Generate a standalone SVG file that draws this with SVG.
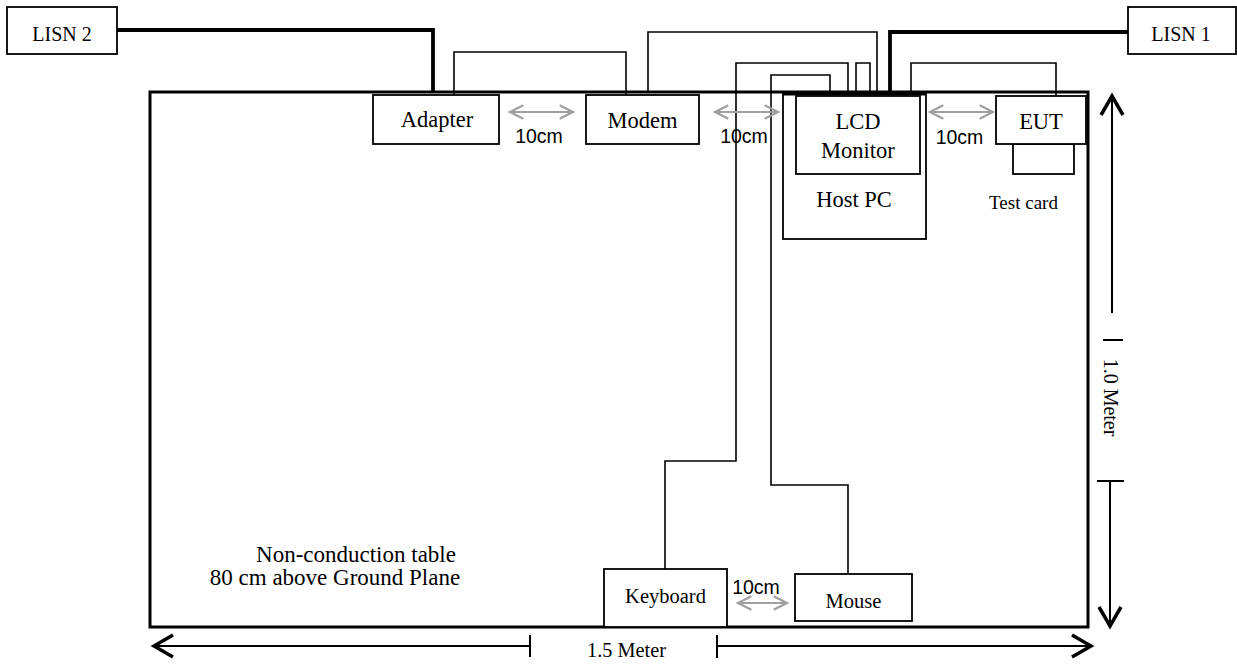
<svg xmlns="http://www.w3.org/2000/svg" width="1237" height="664" viewBox="0 0 1237 664">
<style>
.box{fill:#fff;stroke:#000;stroke-width:1.8}
.t{font-family:"Liberation Serif","Times New Roman",serif;fill:#000;text-anchor:middle}
.s{font-family:"Liberation Sans",Arial,sans-serif;fill:#000;text-anchor:middle;font-size:19.5px}
.cab{fill:none;stroke:#000;stroke-width:1.6}
.pwr{fill:none;stroke:#000;stroke-width:3.8}
.gap{fill:none;stroke:#a0a0a0;stroke-width:2}
.dim{fill:none;stroke:#000;stroke-width:2}
</style>
<defs>
<marker id="blk" markerUnits="userSpaceOnUse" markerWidth="30" markerHeight="30" viewBox="-24 -15 28 30" refX="0" refY="0" orient="auto-start-reverse" overflow="visible">
<path d="M-19,-11 L0,0 L-19,11" fill="none" stroke="#000" stroke-width="3.5"/>
</marker>
<marker id="gry" markerUnits="userSpaceOnUse" markerWidth="20" markerHeight="20" viewBox="-15 -9 18 18" refX="0" refY="0" orient="auto-start-reverse" overflow="visible">
<path d="M-12,-6 L0,0 L-12,6" fill="none" stroke="#a0a0a0" stroke-width="2"/>
</marker>
</defs>
<rect width="1237" height="664" fill="#fff"/>

<g id="table">
<rect x="150" y="92" width="938" height="535" fill="#fff" stroke="#000" stroke-width="3"/>
<text class="t" x="356" y="562" font-size="23">Non-conduction table</text>
<text class="t" x="335" y="585" font-size="23">80 cm above Ground Plane</text>
</g>

<g id="connectors">
<polyline class="pwr" points="117,30 433,30 433,92"/>
<polyline class="pwr" points="1128,32 890,32 890,92"/>
<polyline class="cab" points="454,95 454,52 626,52 626,95"/>
<polyline class="cab" points="648,92 648,32 877,32 877,92"/>
<polyline class="cab" points="848,92 848,63 736,63 736,461 665,461 665,569"/>
<polyline class="cab" points="830,92 830,75 771,75 771,485 848,485 848,574"/>
<polyline class="cab" points="856,92 856,63 870,63 870,92"/>
<polyline class="cab" points="911,92 911,63 1056,63 1056,96"/>
</g>

<g id="lisn2">
<rect class="box" x="7" y="7" width="110" height="47"/>
<text class="t" x="62" y="41" font-size="20">LISN 2</text>
</g>
<g id="lisn1">
<rect class="box" x="1128" y="7" width="108" height="47"/>
<text class="t" x="1181" y="41" font-size="20">LISN 1</text>
</g>
<g id="adapter">
<rect class="box" x="373" y="95" width="126" height="49"/>
<text class="t" x="437" y="127" font-size="22.5">Adapter</text>
</g>
<g id="modem">
<rect class="box" x="586" y="95" width="113" height="49"/>
<text class="t" x="642.5" y="128" font-size="22.5">Modem</text>
</g>
<g id="hostpc">
<rect class="box" x="783" y="94" width="143" height="145"/>
<line x1="783" y1="94" x2="926" y2="94" stroke="#000" stroke-width="3"/>
<text class="t" x="854" y="207" font-size="22.5">Host PC</text>
</g>
<g id="lcd">
<rect class="box" x="796" y="96" width="124" height="78"/>
<text class="t" x="858" y="129" font-size="22.5">LCD</text>
<text class="t" x="858" y="158" font-size="22.5">Monitor</text>
</g>
<g id="testcard">
<rect class="box" x="1013" y="144" width="61" height="30"/>
<text class="t" x="1023.5" y="209" font-size="19">Test card</text>
</g>
<g id="eut">
<rect class="box" x="996" y="96" width="90" height="48"/>
<text class="t" x="1041" y="129" font-size="22.5">EUT</text>
</g>
<g id="keyboard">
<rect class="box" x="604" y="569" width="123" height="58"/>
<text class="t" x="665.5" y="603" font-size="20.5">Keyboard</text>
</g>
<g id="mouse">
<rect class="box" x="795" y="574" width="117" height="47"/>
<text class="t" x="853.5" y="608" font-size="20.5">Mouse</text>
</g>

<g id="spacing">
<line class="gap" x1="510" y1="112" x2="573" y2="112" marker-start="url(#gry)" marker-end="url(#gry)"/>
<line class="gap" x1="715" y1="112" x2="778" y2="112" marker-start="url(#gry)" marker-end="url(#gry)"/>
<line class="gap" x1="930" y1="112" x2="993" y2="112" marker-start="url(#gry)" marker-end="url(#gry)"/>
<line class="gap" x1="738" y1="603" x2="787" y2="603" marker-start="url(#gry)" marker-end="url(#gry)"/>
<text class="s" x="539" y="143">10cm</text>
<text class="s" x="744" y="143">10cm</text>
<text class="s" x="959.5" y="144">10cm</text>
<text class="s" x="756" y="594">10cm</text>
</g>

<g id="dimensions">
<line class="dim" x1="530" y1="646" x2="154" y2="646" marker-end="url(#blk)"/>
<line class="dim" x1="530" y1="635" x2="530" y2="657"/>
<line class="dim" x1="717" y1="646" x2="1091" y2="646" marker-end="url(#blk)"/>
<line class="dim" x1="717" y1="635" x2="717" y2="658"/>
<text class="t" x="626.5" y="657" font-size="20.3">1.5 Meter</text>
<line class="dim" x1="1112" y1="313" x2="1112" y2="96" marker-end="url(#blk)"/>
<line class="dim" x1="1103" y1="340" x2="1123" y2="340"/>
<line class="dim" x1="1110" y1="481" x2="1110" y2="626" marker-end="url(#blk)"/>
<line class="dim" x1="1097" y1="481" x2="1124" y2="481"/>
<text class="t" font-size="20" transform="translate(1104,397.5) rotate(90)">1.0 Meter</text>
</g>
</svg>
